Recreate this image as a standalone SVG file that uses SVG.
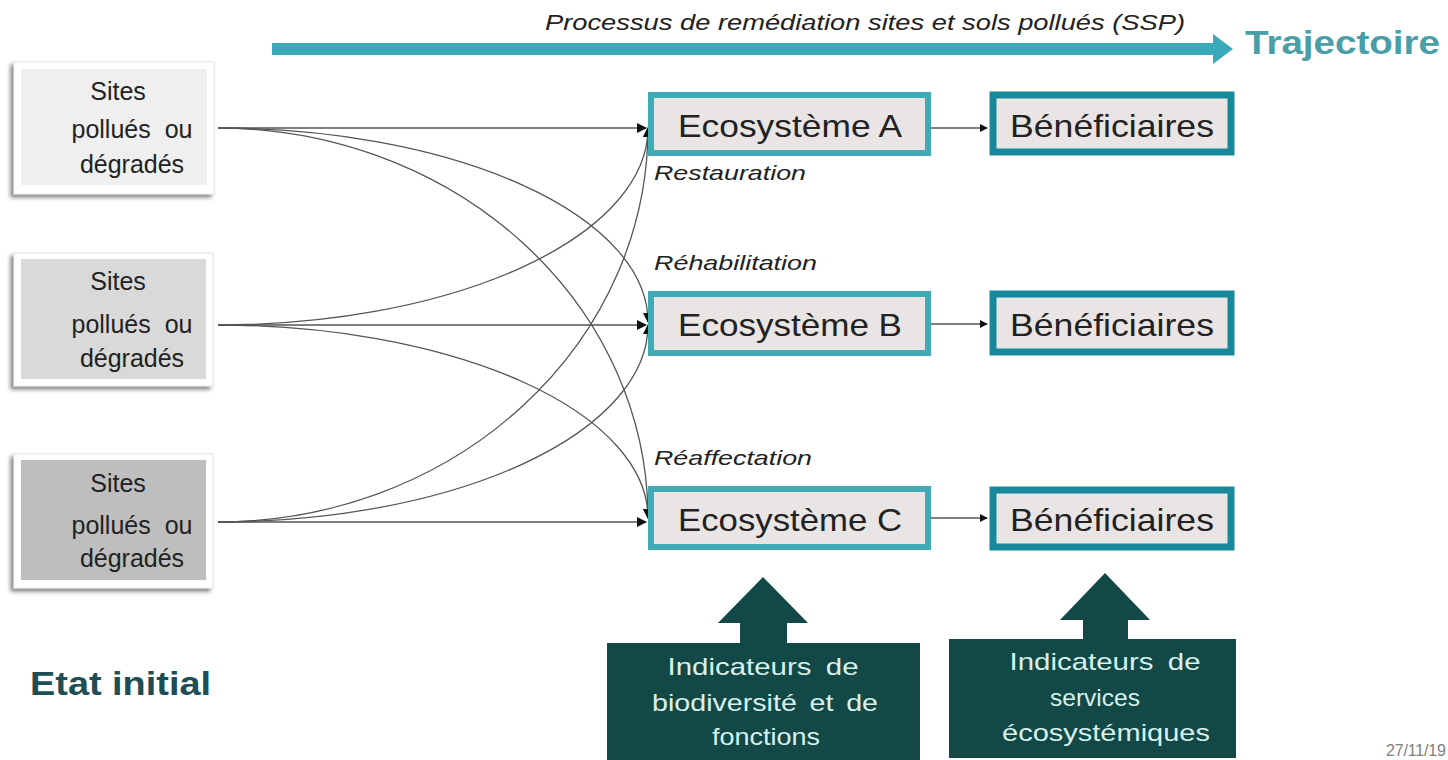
<svg xmlns="http://www.w3.org/2000/svg" width="1448" height="760" viewBox="0 0 1448 760">
<defs>
<filter id="sh" x="-10%" y="-10%" width="120%" height="125%">
<feGaussianBlur in="SourceAlpha" stdDeviation="2"/>
<feOffset dx="-3" dy="3" result="b"/>
<feComponentTransfer><feFuncA type="linear" slope="0.5"/></feComponentTransfer>
<feMerge><feMergeNode/><feMergeNode in="SourceGraphic"/></feMerge>
</filter>
<marker id="ah" viewBox="0 0 10 10" refX="9" refY="5" markerWidth="8" markerHeight="8" markerUnits="userSpaceOnUse" orient="auto">
<path d="M0,0 L10,5 L0,10 z" fill="#111"/>
</marker>
<marker id="ah2" viewBox="0 0 10 10" refX="9" refY="5" markerWidth="10" markerHeight="10" markerUnits="userSpaceOnUse" orient="auto">
<path d="M0,0 L10,5 L0,10 z" fill="#111"/>
</marker>
</defs>
<style>
.t{font-family:"Liberation Sans",Arial,sans-serif;fill:#222}
.site{font-size:25px;text-anchor:middle}
.eco{fill:#e9e5e5;stroke:#40aab5;stroke-width:6}
.ben{fill:#e9e5e5;stroke:#17899a;stroke-width:7}
.big{font-size:32px}
.lab{font-size:21px;font-style:italic}
.ind{font-size:24px;fill:#d9f1ee;text-anchor:middle}
.con{fill:none;stroke:#555;stroke-width:1.3}
.dark{fill:#124846}
</style>
<rect width="1448" height="760" fill="#fff"/>

<g id="trajectory">
<text class="t" x="545" y="30" font-size="22" font-style="italic" textLength="640" lengthAdjust="spacingAndGlyphs">Processus de remédiation sites et sols pollués (SSP)</text>
<path d="M272,43 H1213 V34 L1233,49 L1213,64 V55 H272 z" fill="#3aa9b9"/>
<text class="t" x="1245" y="54" font-size="34" font-weight="bold" style="fill:#4a9ea8" textLength="195" lengthAdjust="spacingAndGlyphs">Trajectoire</text>
</g>

<g id="site1">
<rect x="14" y="62" width="200" height="132" fill="#fff" stroke="#e2e2e2" filter="url(#sh)"/>
<rect x="21" y="69" width="186" height="116" fill="#efefef"/>
<text class="t site" x="118" y="100">Sites</text>
<text class="t site" x="132" y="138" word-spacing="7">pollués ou</text>
<text class="t site" x="132" y="173">dégradés</text>
</g>
<g id="site2">
<rect x="14" y="253" width="199" height="133" fill="#fff" stroke="#e2e2e2" filter="url(#sh)"/>
<rect x="21" y="259" width="185" height="120" fill="#d9d9d9"/>
<text class="t site" x="118" y="290">Sites</text>
<text class="t site" x="132" y="333" word-spacing="7">pollués ou</text>
<text class="t site" x="132" y="367">dégradés</text>
</g>
<g id="site3">
<rect x="14" y="454" width="199" height="134" fill="#fff" stroke="#e2e2e2" filter="url(#sh)"/>
<rect x="21" y="460" width="185" height="120" fill="#bebebe"/>
<text class="t site" x="118" y="492">Sites</text>
<text class="t site" x="132" y="534" word-spacing="7">pollués ou</text>
<text class="t site" x="132" y="567">dégradés</text>
</g>

<g id="connectors">
<path class="con" d="M218,128 H646" marker-end="url(#ah2)"/>
<path class="con" d="M218,128 A430,194 0 0 1 648,322" marker-end="url(#ah2)"/>
<path class="con" d="M218,128 A430,390 0 0 1 648,518" marker-end="url(#ah2)"/>
<path class="con" d="M218,325 H646" marker-end="url(#ah2)"/>
<path class="con" d="M218,325 A430,197 0 0 0 648,128" marker-end="url(#ah2)"/>
<path class="con" d="M218,325 A430,193 0 0 1 648,518" marker-end="url(#ah2)"/>
<path class="con" d="M218,522 H646" marker-end="url(#ah2)"/>
<path class="con" d="M218,522 A430,394 0 0 0 648,128" marker-end="url(#ah2)"/>
<path class="con" d="M218,522 A430,197 0 0 0 648,325" marker-end="url(#ah2)"/>
<path class="con" d="M931,128 H987" marker-end="url(#ah)"/>
<path class="con" d="M931,324 H987" marker-end="url(#ah)"/>
<path class="con" d="M931,518 H987" marker-end="url(#ah)"/>
</g>

<g id="ecoA">
<rect class="eco" x="651" y="95" width="277" height="58"/>
<text class="t big" x="678" y="137" textLength="224" lengthAdjust="spacingAndGlyphs">Ecosystème A</text>
</g>
<g id="ecoB">
<rect class="eco" x="651" y="294" width="277" height="59"/>
<text class="t big" x="678" y="336" textLength="224" lengthAdjust="spacingAndGlyphs">Ecosystème B</text>
</g>
<g id="ecoC">
<rect class="eco" x="651" y="489" width="277" height="58"/>
<text class="t big" x="678" y="531" textLength="224" lengthAdjust="spacingAndGlyphs">Ecosystème C</text>
</g>

<g id="benA">
<rect class="ben" x="993" y="95" width="238" height="57"/>
<text class="t big" x="1010" y="137" textLength="204" lengthAdjust="spacingAndGlyphs">Bénéficiaires</text>
</g>
<g id="benB">
<rect class="ben" x="993" y="294" width="238" height="58"/>
<text class="t big" x="1010" y="336" textLength="204" lengthAdjust="spacingAndGlyphs">Bénéficiaires</text>
</g>
<g id="benC">
<rect class="ben" x="993" y="490" width="238" height="57"/>
<text class="t big" x="1010" y="531" textLength="204" lengthAdjust="spacingAndGlyphs">Bénéficiaires</text>
</g>

<g id="labels">
<text class="t lab" x="654" y="180" textLength="152" lengthAdjust="spacingAndGlyphs">Restauration</text>
<text class="t lab" x="654" y="270" textLength="163" lengthAdjust="spacingAndGlyphs">Réhabilitation</text>
<text class="t lab" x="654" y="465" textLength="158" lengthAdjust="spacingAndGlyphs">Réaffectation</text>
</g>

<g id="ind1">
<path class="dark" d="M763,577 L808,623 H787 V643 H920 V760 H607 V643 H740 V623 H718 z"/>
<text class="t ind" x="763" y="675" word-spacing="5" textLength="191" lengthAdjust="spacingAndGlyphs">Indicateurs de</text>
<text class="t ind" x="765" y="711" word-spacing="4" textLength="226" lengthAdjust="spacingAndGlyphs">biodiversité et de</text>
<text class="t ind" x="766" y="745" textLength="108" lengthAdjust="spacingAndGlyphs">fonctions</text>
</g>
<g id="ind2">
<path class="dark" d="M1105,573 L1150,620 H1128 V639 H1236 V758 H949 V639 H1083 V620 H1060 z"/>
<text class="t ind" x="1105" y="670" word-spacing="5" textLength="191" lengthAdjust="spacingAndGlyphs">Indicateurs de</text>
<text class="t ind" x="1095" y="706" textLength="90" lengthAdjust="spacingAndGlyphs">services</text>
<text class="t ind" x="1106" y="741" textLength="208" lengthAdjust="spacingAndGlyphs">écosystémiques</text>
</g>

<text class="t" x="30" y="695" font-size="33" font-weight="bold" style="fill:#1d4d55" textLength="181" lengthAdjust="spacingAndGlyphs">Etat initial</text>
<text class="t" x="1386" y="756" font-size="16" style="fill:#808080" textLength="60" lengthAdjust="spacing">27/11/19</text>
</svg>
